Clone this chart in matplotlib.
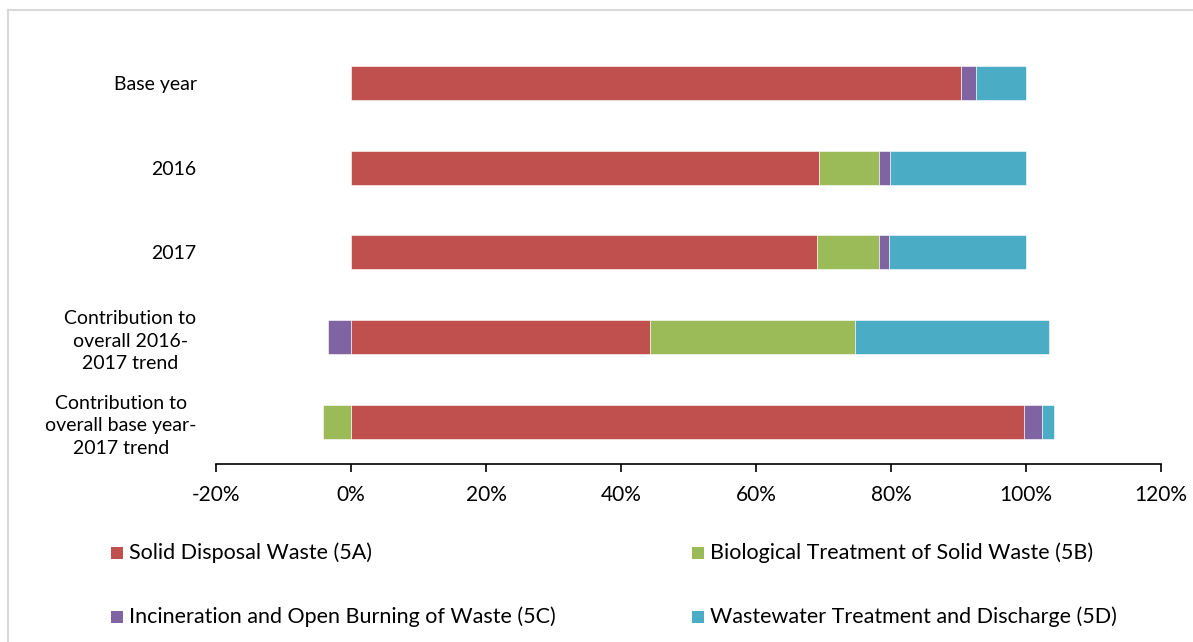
import matplotlib
matplotlib.use("Agg")
import matplotlib.pyplot as plt
from matplotlib.patches import Rectangle
from matplotlib.lines import Line2D
from matplotlib.ticker import FuncFormatter
import numpy as np

plt.rcParams['font.family'] = ['Lato', 'DejaVu Sans']

categories = [
    "Base year",
    "2016",
    "2017",
    "Contribution to\noverall 2016-\n2017 trend",
    "Contribution to\noverall base year-\n2017 trend",
]
series_names = [
    "Solid Disposal Waste (5A)",
    "Biological Treatment of Solid Waste (5B)",
    "Incineration and Open Burning of Waste (5C)",
    "Wastewater Treatment and Discharge (5D)",
]
solid_disposal = [90.4, 69.3, 69.0, 44.3, 99.7]
biological = [0.0, 8.9, 9.2, 30.4, -4.1]
incineration = [2.2, 1.6, 1.5, -3.4, 2.7]
wastewater = [7.4, 20.2, 20.3, 28.7, 1.7]
colors = ["#C0504D", "#9BBB59", "#8064A2", "#4BACC6"]
x_ticks = [-20, 0, 20, 40, 60, 80, 100, 120]

fig = plt.figure(figsize=(11.93, 6.42), dpi=100)
ax = fig.add_axes([216 / 1193, 1 - 464 / 642, (1161 - 216) / 1193, (464 - 40.6) / 642])

y = np.arange(len(categories))
pos_base = np.zeros(len(categories))
neg_base = np.zeros(len(categories))
for vals, col in zip([solid_disposal, biological, incineration, wastewater], colors):
    v = np.array(vals, dtype=float)
    left = np.where(v >= 0, pos_base, neg_base)
    ax.barh(y, v, left=left, height=0.4, color=col, edgecolor="white", linewidth=0.4)
    pos_base += np.where(v >= 0, v, 0)
    neg_base += np.where(v < 0, v, 0)

ax.set_ylim(len(categories) - 0.5, -0.5)
ax.set_xlim(x_ticks[0], x_ticks[-1])
ax.set_xticks(x_ticks)
ax.xaxis.set_major_formatter(FuncFormatter(lambda v, p: f"{v:.0f}%"))
ax.set_yticks(y)
ax.set_yticklabels(categories, ha="right", multialignment="center", fontsize=14, linespacing=1.38)
ax.tick_params(axis="y", length=0, pad=14)
ax.tick_params(axis="x", direction="out", length=6, width=1.2, labelsize=15, pad=9, color="black")
for s in ["top", "right", "left"]:
    ax.spines[s].set_visible(False)
ax.spines["bottom"].set_linewidth(1.2)

# outer frame
fig.add_artist(Line2D([8 / 1193, 1], [1 - 10 / 642, 1 - 10 / 642], transform=fig.transFigure, color="#d9d9d9", lw=1.5))
fig.add_artist(Line2D([8 / 1193, 8 / 1193], [0, 1 - 10 / 642], transform=fig.transFigure, color="#d9d9d9", lw=1.5))

# legend entries
legend_pos = [(111, 553), (692, 553), (111, 617), (692, 617)]
sq = 12
for (px, py), name, col in zip(legend_pos, series_names, colors):
    fig.add_artist(Rectangle((px / 1193, 1 - (py + sq / 2) / 642), sq / 1193, sq / 642,
                             transform=fig.transFigure, facecolor=col, edgecolor="none"))
    fig.text((px + sq + 6) / 1193, 1 - py / 642, name, fontsize=15.5, va="center", ha="left")

fig.savefig("out.png", dpi=100)
